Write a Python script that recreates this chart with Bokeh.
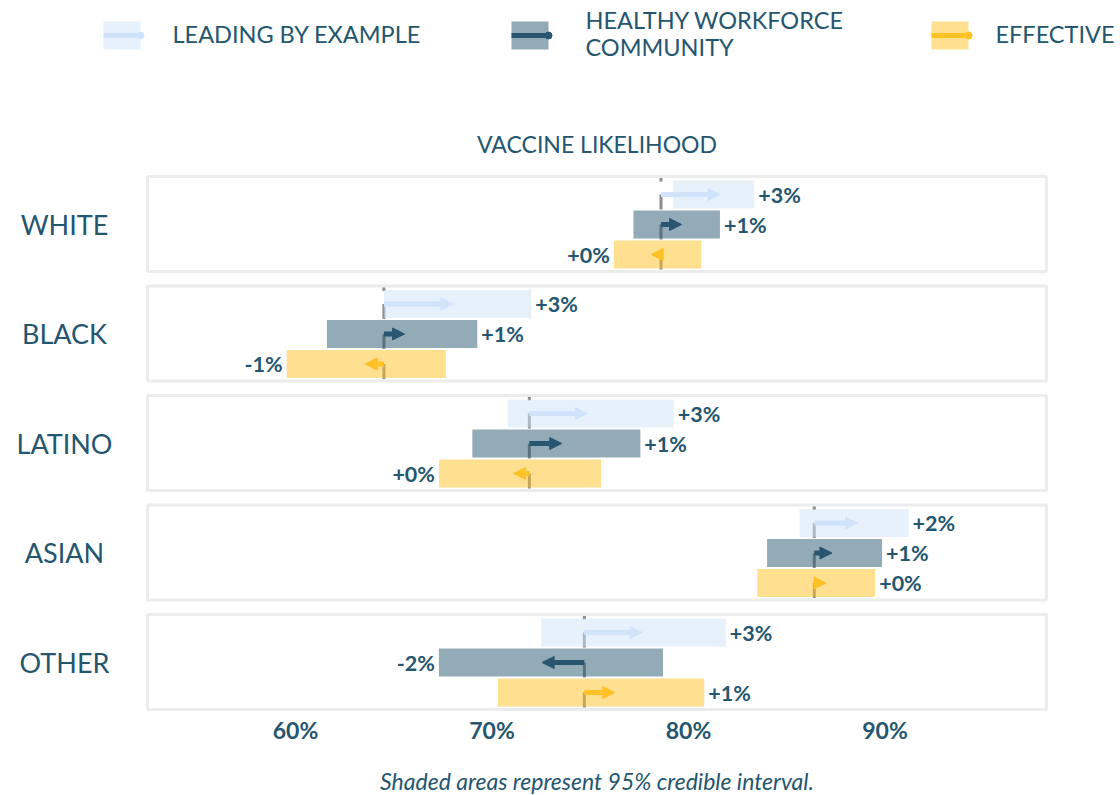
from bokeh.plotting import figure
from bokeh.models import (Range1d, FixedTicker, Arrow, NormalHead, ColumnDataSource, LinearAxis)
from bokeh.core.properties import value
from bokeh.embed import file_html
from bokeh.resources import INLINE

# ---------------- data ----------------
groups = ["WHITE", "BLACK", "LATINO", "ASIAN", "OTHER"]
baseline = [78.6, 64.5, 71.9, 86.4, 74.7]

series_names = ["LEADING BY EXAMPLE", "HEALTHY WORKFORCE\nCOMMUNITY", "EFFECTIVE"]

lead_low = [79.2, 64.5, 70.8, 85.65, 72.5]
lead_high = [83.35, 72.0, 79.25, 91.2, 81.9]
lead_est = [81.6, 68.0, 74.85, 88.6, 77.65]
lead_lab = ["+3%", "+3%", "+3%", "+2%", "+3%"]

hw_low = [77.2, 61.6, 69.0, 84.0, 67.3]
hw_high = [81.6, 69.25, 77.55, 89.85, 78.7]
hw_est = [79.65, 65.55, 73.55, 87.3, 72.55]
hw_lab = ["+1%", "+1%", "+1%", "+1%", "-2%"]

eff_low = [76.2, 59.55, 67.3, 83.5, 70.3]
eff_high = [80.65, 67.65, 75.55, 89.5, 80.8]
eff_est = [78.1, 63.55, 71.1, 87.0, 76.25]
eff_lab = ["+0%", "-1%", "+0%", "+0%", "+1%"]

ticks = [60, 70, 80, 90]
tick_labels = ["60%", "70%", "80%", "90%"]

title_text = "VACCINE LIKELIHOOD"
footer_text = "Shaded areas represent 95% credible interval."

# ---------------- style / layout ----------------
TEXT = "#24566f"
FONT = "Lato"
colors = ["#d0e3fa", "#285670", "#ffc124"]
BORDER = "#ececec"
BASE = "#8c8c8c"

PX_PER = 19.65      # pixels per percentage point
X60 = 295.0         # page x of 60%
FW, FH = 1120, 795  # frame size; frame top-left at page (0, 0)


def xd(px):
    return 60 + (px - X60) / PX_PER


def yd(py):
    return py


p = figure(frame_width=FW, frame_height=FH, output_backend="svg", toolbar_location=None,
           x_range=Range1d(xd(0), xd(FW)), y_range=Range1d(FH, 0),
           x_axis_location=None, y_axis_location=None, min_border=0,
           outline_line_color=None, background_fill_color="white",
           border_fill_color="white")
p.grid.visible = False

xaxis = LinearAxis(fixed_location=yd(713), ticker=FixedTicker(ticks=ticks),
                   major_label_overrides={t: l for t, l in zip(ticks, tick_labels)},
                   axis_line_color=None, major_tick_line_color=None,
                   minor_tick_line_color=None, major_tick_out=0, major_tick_in=0,
                   major_label_standoff=2, major_label_text_font=FONT,
                   major_label_text_font_style="bold",
                   major_label_text_font_size="23px",
                   major_label_text_color=TEXT)
p.add_layout(xaxis, "below")

# ---------------- panels ----------------
panel_left, panel_right = xd(147), xd(1046)
panel_tops = [yd(176 + 109.5 * i) for i in range(len(groups))]
panel_h = 95
p.quad(left=panel_left, right=panel_right, top=panel_tops,
       bottom=[t + panel_h for t in panel_tops],
       fill_color=None, line_color=BORDER, line_width=3)

# group labels
p.text(x=xd(64), y=[t + panel_h / 2 for t in panel_tops], text=groups,
       text_font=value(FONT), text_font_size="27px", text_color=TEXT,
       text_align="center", text_baseline="middle")

# chart title
p.text(x=[(panel_left + panel_right) / 2], y=[yd(143)], text=[title_text],
       text_font=value(FONT), text_font_size="23px", text_color=TEXT,
       text_align="center", text_baseline="middle")

all_series = [
    (lead_low, lead_high, lead_est, lead_lab),
    (hw_low, hw_high, hw_est, hw_lab),
    (eff_low, eff_high, eff_est, eff_lab),
]

# baseline segments (under the bars)
sx, sy0, sy1 = [], [], []
for i, t in enumerate(panel_tops):
    sx.append(baseline[i]); sy0.append(t + 1.5); sy1.append(t + 5)
    for j in range(3):
        c = t + 18 + 30 * j
        sx.append(baseline[i]); sy0.append(c); sy1.append(c + 15)
p.segment(x0=sx, x1=sx, y0=sy0, y1=sy1, line_color=BASE, line_width=3)

for j, (lo, hi, est, lab) in enumerate(all_series):
    col = colors[j]
    ys = [t + 18 + 30 * j for t in panel_tops]
    p.quad(left=lo, right=hi, top=[y - 14 for y in ys], bottom=[y + 14 for y in ys],
           fill_color=col, fill_alpha=0.5, line_color=None)
    src = ColumnDataSource(dict(x0=baseline, x1=est, y=ys))
    p.add_layout(Arrow(end=NormalHead(size=12, fill_color=col, line_color=col, line_width=1),
                       x_start="x0", y_start="y", x_end="x1", y_end="y",
                       line_color=col, line_width=5, source=src))
    pos = [k for k in range(len(est)) if est[k] >= baseline[k]]
    neg = [k for k in range(len(est)) if est[k] < baseline[k]]
    if pos:
        p.text(x=[hi[k] for k in pos], y=[ys[k] for k in pos], text=[lab[k] for k in pos],
               x_offset=4, text_font=value(FONT), text_font_style="bold",
               text_font_size="21.5px", text_color=TEXT, text_align="left",
               text_baseline="middle")
    if neg:
        p.text(x=[lo[k] for k in neg], y=[ys[k] for k in neg], text=[lab[k] for k in neg],
               x_offset=-4, text_font=value(FONT), text_font_style="bold",
               text_font_size="21.5px", text_color=TEXT, text_align="right",
               text_baseline="middle")

# ---------------- legend ----------------
leg_sw = [(103, 140, 172), (511, 548, 585), (931, 968, 995)]
for j, (a, b, tx) in enumerate(leg_sw):
    col = colors[j]
    p.quad(left=[xd(a)], right=[xd(b)], top=[yd(21)], bottom=[yd(49)],
           fill_color=col, fill_alpha=0.5, line_color=None)
    p.segment(x0=[xd(a)], x1=[xd(b)], y0=[yd(35)], y1=[yd(35)], line_color=col, line_width=5)
    p.scatter(x=[xd(b)], y=[yd(35)], size=7, fill_color=col, line_color=col)
    p.text(x=[xd(tx)], y=[yd(33)], text=[series_names[j]], text_font=value(FONT),
           text_font_size="23.5px", text_color=TEXT, text_align="left",
           text_baseline="middle", text_line_height=0.95)

# footnote
p.text(x=[(panel_left + panel_right) / 2], y=[yd(780)], text=[footer_text],
       text_font=value(FONT), text_font_style="italic", text_font_size="23px",
       text_color=TEXT, text_align="center", text_baseline="middle")

open("out.html", "w").write(file_html(p, INLINE))
